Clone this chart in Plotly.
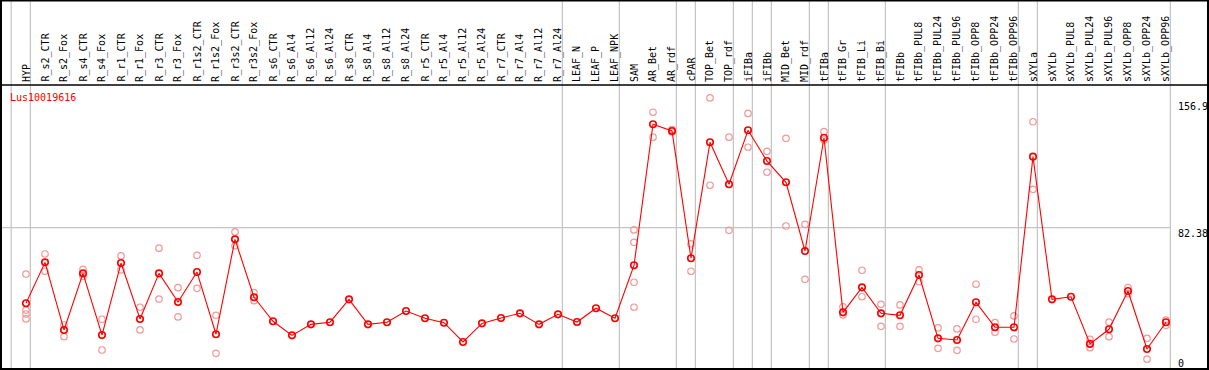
import plotly.graph_objects as go

gene = "Lus10019616"

categories = [
    "HYP", "R_s2_CTR", "R_s2_Fox", "R_s4_CTR", "R_s4_Fox", "R_r1_CTR", "R_r1_Fox",
    "R_r3_CTR", "R_r3_Fox", "R_r1s2_CTR", "R_r1s2_Fox", "R_r3s2_CTR", "R_r3s2_Fox",
    "R_s6_CTR", "R_s6_Al4", "R_s6_Al12", "R_s6_Al24", "R_s8_CTR", "R_s8_Al4",
    "R_s8_Al12", "R_s8_Al24", "R_r5_CTR", "R_r5_Al4", "R_r5_Al12", "R_r5_Al24",
    "R_r7_CTR", "R_r7_Al4", "R_r7_Al12", "R_r7_Al24", "LEAF_N", "LEAF_P", "LEAF_NPK",
    "SAM", "AR_Bet", "AR_rdf", "cPAR", "TOP_Bet", "TOP_rdf", "iFIBa", "iFIBb",
    "MID_Bet", "MID_rdf", "tFIBa", "tFIB_Gr", "tFIB_Li", "tFIB_Bi", "tFIBb",
    "tFIBb_PUL8", "tFIBb_PUL24", "tFIBb_PUL96", "tFIBb_OPP8", "tFIBb_OPP24",
    "tFIBb_OPP96", "sXYLa", "sXYLb", "sXYLb_PUL8", "sXYLb_PUL24", "sXYLb_PUL96",
    "sXYLb_OPP8", "sXYLb_OPP24", "sXYLb_OPP96",
]

mean_values = [
    36.3, 61.2, 20.1, 54.5, 17.0, 60.8, 26.8, 54.5, 37.1, 55.3, 17.5, 75.2, 40.0,
    25.4, 16.8, 23.5, 24.8, 38.7, 23.5, 24.8, 31.6, 27.2, 24.5, 12.8, 24.1,
    27.4, 30.2, 23.5, 29.6, 24.9, 33.3, 27.2,
    59.4, 145.2, 141.1, 63.7, 134.2, 108.7, 141.5, 122.8,
    109.9, 68.1, 137.0, 30.8, 46.0, 30.2, 29.0,
    53.5, 15.0, 14.0, 36.9, 21.7, 21.7,
    125.5, 38.7, 40.3, 11.6, 20.5, 43.8, 8.5, 24.8,
]

replicates = [
    [54.1, 32.2, 29.8, 26.8], [66.3, 55.8], [23.1, 16.0], [56.9, 52.6], [26.6, 7.9],
    [65.1, 56.6], [33.9, 20.1], [69.8, 38.9], [45.8, 28.0], [65.5, 45.4], [29.0, 5.9],
    [79.7, 71.3], [42.8, 37.9],
    [], [], [], [], [], [], [], [], [], [], [], [], [], [], [], [], [], [], [],
    [80.9, 73.4, 49.1, 33.9], [152.5, 137.3], [142.0, 140.5], [72.4, 55.8],
    [161.2, 108.1], [137.3, 80.7], [151.8, 131.2], [128.7, 116.0],
    [136.6, 83.3], [84.3, 50.9], [140.7, 135.6], [34.2, 29.2], [56.4, 40.3],
    [35.7, 22.3], [35.3, 22.3],
    [56.6, 49.4], [21.3, 8.9], [20.7, 7.7], [47.9, 26.6], [24.5, 18.7], [28.6, 14.6],
    [146.7, 105.6], [], [], [14.4, 9.3], [24.9, 16.0], [45.8, 42.0], [15.0, 2.3],
    [26.1, 22.9],
]

group_ends = ["HYP", "R_r7_Al24", "LEAF_NPK", "AR_rdf", "cPAR", "TOP_rdf", "iFIBa",
              "iFIBb", "MID_rdf", "tFIBa", "tFIB_Bi", "tFIBb_OPP96", "sXYLa", "sXYLb_OPP96"]

y_tick_labels = ["156.9", "82.38", "0"]
y_grid_value = 82.38

W, H = 1209, 370
FONT = "DejaVu Sans Mono"

xs = list(range(len(categories)))
rep_x, rep_y = [], []
for i, reps in enumerate(replicates):
    for v in reps:
        rep_x.append(i)
        rep_y.append(v)

fig = go.Figure()
fig.add_trace(go.Scatter(
    x=rep_x, y=rep_y, mode="markers",
    marker=dict(symbol="circle-open", size=6.5, color="#f09a9a", line=dict(width=1.2, color="#f09a9a")),
    showlegend=False, hoverinfo="skip",
))
fig.add_trace(go.Scatter(
    x=xs, y=mean_values, mode="lines+markers",
    line=dict(color="#ff0000", width=1.1),
    marker=dict(symbol="circle-open", size=6.5, color="#ff0000", line=dict(width=1.6, color="#ff0000")),
    showlegend=False,
))

# pixel mapping: index i -> x = 26 + 19*i ; value v -> y = 363 - 1.6444*v
px0, dpx = 26.0, 19.0
vy0, kv = 363.0, 1.6444
x_range = [(0 - px0) / dpx, (W - px0) / dpx]
y_range = [(vy0 - H) / kv, vy0 / kv]

shapes = []
def py(p):
    return 1 - p / H
def pxp(p):
    return p / W

# vertical group separators
sep_positions = [-1 + 0.22] + [categories.index(g) + 0.23 for g in group_ends]
for s in sep_positions:
    shapes.append(dict(type="line", xref="x", yref="paper", x0=s, x1=s, y0=py(369), y1=py(0),
                       line=dict(color="#c4c4c4", width=1.2), layer="below"))
# horizontal gridline
shapes.append(dict(type="line", xref="paper", yref="y", x0=pxp(1), x1=pxp(1170.5),
                   y0=y_grid_value, y1=y_grid_value, line=dict(color="#c4c4c4", width=1.2), layer="below"))
# borders
shapes.append(dict(type="rect", xref="paper", yref="paper", x0=pxp(1), x1=pxp(1208), y0=py(369), y1=py(0.5),
                   line=dict(color="black", width=2)))
shapes.append(dict(type="line", xref="paper", yref="paper", x0=pxp(1), x1=pxp(1208), y0=py(85), y1=py(85),
                   line=dict(color="black", width=1.5)))

annotations = []
for i, c in enumerate(categories):
    annotations.append(dict(x=i, y=py(83), xref="x", yref="paper", text=c, textangle=-90,
                            showarrow=False, xanchor="center", yanchor="bottom", borderpad=0,
                            font=dict(family=FONT, size=10, color="black")))
annotations.append(dict(x=pxp(9), y=py(97), xref="paper", yref="paper", text=gene, showarrow=False,
                        xanchor="left", yanchor="middle", borderpad=0,
                        font=dict(family=FONT, size=10, color="#ff0000")))
for lab, yc in zip(y_tick_labels, [107, 233, 363]):
    annotations.append(dict(x=pxp(1177), y=py(yc), xref="paper", yref="paper", text=lab, showarrow=False,
                            xanchor="left", yanchor="middle", borderpad=0,
                            font=dict(family=FONT, size=10, color="black")))

fig.update_layout(
    width=W, height=H, margin=dict(l=0, r=0, t=0, b=0),
    paper_bgcolor="white", plot_bgcolor="white",
    xaxis=dict(range=x_range, visible=False, fixedrange=True),
    yaxis=dict(range=y_range, visible=False, fixedrange=True),
    shapes=shapes, annotations=annotations,
)
fig.write_html("out.html", config={"displayModeBar": False},
               post_script="document.body.style.margin='0';document.body.style.overflow='hidden';")
